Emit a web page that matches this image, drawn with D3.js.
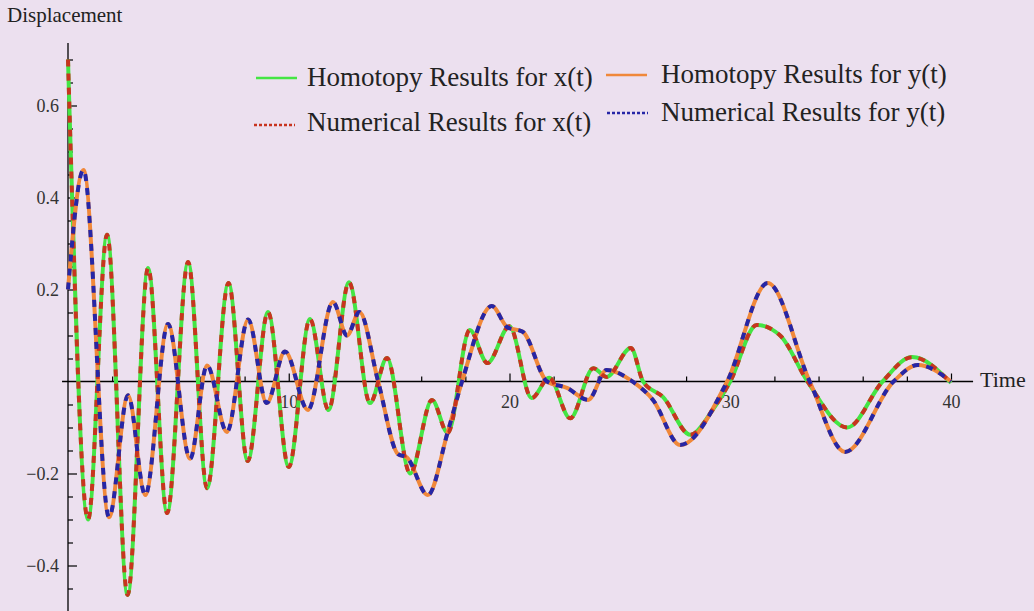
<!DOCTYPE html>
<html>
<head>
<meta charset="utf-8">
<script src="https://cdn.jsdelivr.net/npm/d3@7"></script>
<style>
  html, body { margin: 0; padding: 0; background: #ece0ef; }
  svg { display: block; }
</style>
</head>
<body>
<svg id="chart"></svg>
<script>
// x(t): times and displacement (homotopy and numerical overlap)
const timeX = [0, 0.91, 1.77, 2.70, 3.63, 4.49, 5.44, 6.30, 7.27, 8.14,
  9.06, 10.0, 10.96, 11.8, 12.73, 13.68, 14.45, 15.5, 16.49, 17.2,
  18.2, 19.0, 20.0, 21.0, 21.8, 22.75, 23.8, 24.4, 25.5, 26.05,
  26.96, 28.2, 29.2, 30.0, 31.2, 32.26, 33.5, 35.3, 36.9, 38.24, 40];
const xHomotopy = [0.70, -0.30, 0.319, -0.464, 0.247, -0.286, 0.26, -0.232, 0.214, -0.173,
  0.151, -0.186, 0.136, -0.062, 0.216, -0.047, 0.051, -0.2, -0.04, -0.112,
  0.112, 0.04, 0.12, -0.036, 0.008, -0.08, 0.029, 0.01, 0.073, 0,
  -0.034, -0.116, -0.062, 0, 0.123, 0.10, 0, -0.10, 0, 0.053, -0.003];
const xNumerical = xHomotopy;

// y(t)
const timeY = [0, 0.7, 1.86, 2.72, 3.5, 4.53, 5.53, 6.3, 7.2, 8.16,
  9.0, 9.83, 10.87, 12.0, 12.64, 13.2, 14.05, 14.95, 15.35, 16.3,
  17.2, 17.85, 19.2, 19.9, 20.6, 21.7, 22.6, 23.56, 24.4, 25.6,
  26.5, 27.73, 29.86, 31.7, 33.6, 35.2, 37.4, 38.5, 40];
const yHomotopy = [0.2, 0.46, -0.295, -0.03, -0.247, 0.125, -0.168, 0.035, -0.11, 0.135,
  -0.047, 0.065, -0.062, 0.173, 0.1, 0.151, 0, -0.158, -0.165, -0.247,
  -0.11, 0, 0.164, 0.118, 0.108, 0, -0.014, -0.04, 0.025, -0.001,
  -0.04, -0.138, 0, 0.214, 0, -0.153, 0, 0.036, 0];
const yNumerical = yHomotopy;

const xTicks = [10, 20, 30, 40];
const yTicks = [-0.4, -0.2, 0.2, 0.4, 0.6];
const legendLabels = ["Homotopy Results for x(t)", "Homotopy Results for y(t)",
  "Numerical Results for x(t)", "Numerical Results for y(t)"];

const width = 1034, height = 611;
const svg = d3.select("#chart").attr("width", width).attr("height", height);

svg.append("rect").attr("width", width).attr("height", height).attr("fill", "#ece0ef");

const x = d3.scaleLinear().domain([0, 40]).range([68, 951]);
const y = d3.scaleLinear().domain([-0.5, 0.7]).range([611.5, 59.5]);

const serif = "'Liberation Serif', 'Times New Roman', serif";

// axes lines
svg.append("line")
  .attr("x1", x(0)).attr("x2", x(0))
  .attr("y1", y(0.736)).attr("y2", height)
  .attr("stroke", "#000").attr("stroke-width", 1.3);
svg.append("line")
  .attr("x1", x(-0.27)).attr("x2", x(41))
  .attr("y1", y(0)).attr("y2", y(0))
  .attr("stroke", "#000").attr("stroke-width", 1.3);

// minor ticks
const minorY = d3.range(-0.5, 0.71, 0.05).filter(v => yTicks.every(t => Math.abs(t - v) > 1e-6) && Math.abs(v) > 1e-6);
const minorX = d3.range(2, 41, 2).filter(v => v % 10 !== 0);

svg.append("g")
  .attr("transform", `translate(${x(0)},0)`)
  .call(d3.axisLeft(y).tickValues(minorY).tickSize(-5).tickFormat(""))
  .call(g => g.select(".domain").remove());
svg.append("g")
  .attr("transform", `translate(0,${y(0)})`)
  .call(d3.axisBottom(x).tickValues(minorX).tickSize(-5).tickFormat(""))
  .call(g => g.select(".domain").remove());

// major ticks
svg.append("g")
  .attr("transform", `translate(${x(0)},0)`)
  .call(d3.axisLeft(y).tickValues(yTicks).tickSize(-9).tickPadding(9).tickFormat(d3.format(".1f")))
  .call(g => g.select(".domain").remove())
  .call(g => g.selectAll("text").attr("font-family", serif).attr("font-size", 18).attr("fill", "#333"));
svg.append("g")
  .attr("transform", `translate(0,${y(0)})`)
  .call(d3.axisBottom(x).tickValues(xTicks).tickSize(-8).tickPadding(14))
  .call(g => g.select(".domain").remove())
  .call(g => g.selectAll("text").attr("font-family", serif).attr("font-size", 18).attr("fill", "#333"));

svg.selectAll(".tick line").attr("stroke", "#000").attr("stroke-width", 1.2);

// axis labels
svg.append("text").attr("x", 7).attr("y", 22)
  .attr("font-family", serif).attr("font-size", 21).attr("fill", "#222")
  .text("Displacement");
svg.append("text").attr("x", 980).attr("y", 387)
  .attr("font-family", serif).attr("font-size", 22).attr("fill", "#222")
  .text("Time");

// curves
const line = d3.line().x(d => x(d[0])).y(d => y(d[1])).curve(d3.curveMonotoneX);
const series = [
  {t: timeX, v: xHomotopy, color: "#44e544", dash: null},
  {t: timeY, v: yHomotopy, color: "#f0883a", dash: null},
  {t: timeX, v: xNumerical, color: "#c8341f", dash: "7,7"},
  {t: timeY, v: yNumerical, color: "#2626a6", dash: "7,7"}
];
svg.append("g").selectAll("path")
  .data(series)
  .join("path")
  .attr("d", s => line(s.t.map((t, i) => [t, s.v[i]])))
  .attr("fill", "none")
  .attr("stroke", s => s.color)
  .attr("stroke-width", 4)
  .attr("stroke-dasharray", s => s.dash)
  .attr("stroke-linejoin", "round");

// legend
const legendPos = [
  {lx: 256, ly: 78, tx: 307, ty: 86},
  {lx: 606, ly: 75, tx: 661, ty: 83},
  {lx: 254, ly: 125, tx: 307, ty: 131},
  {lx: 607, ly: 113, tx: 661, ty: 121}
];
const legend = svg.append("g");
legendLabels.forEach((label, i) => {
  const p = legendPos[i], s = series[i];
  legend.append("line")
    .attr("x1", p.lx).attr("x2", p.lx + 41)
    .attr("y1", p.ly).attr("y2", p.ly)
    .attr("stroke", s.color).attr("stroke-width", 2.5)
    .attr("stroke-dasharray", s.dash ? "3,2" : null);
  legend.append("text")
    .attr("x", p.tx).attr("y", p.ty)
    .attr("font-family", serif).attr("font-size", 27).attr("fill", "#222")
    .text(label);
});
</script>
</body>
</html>
